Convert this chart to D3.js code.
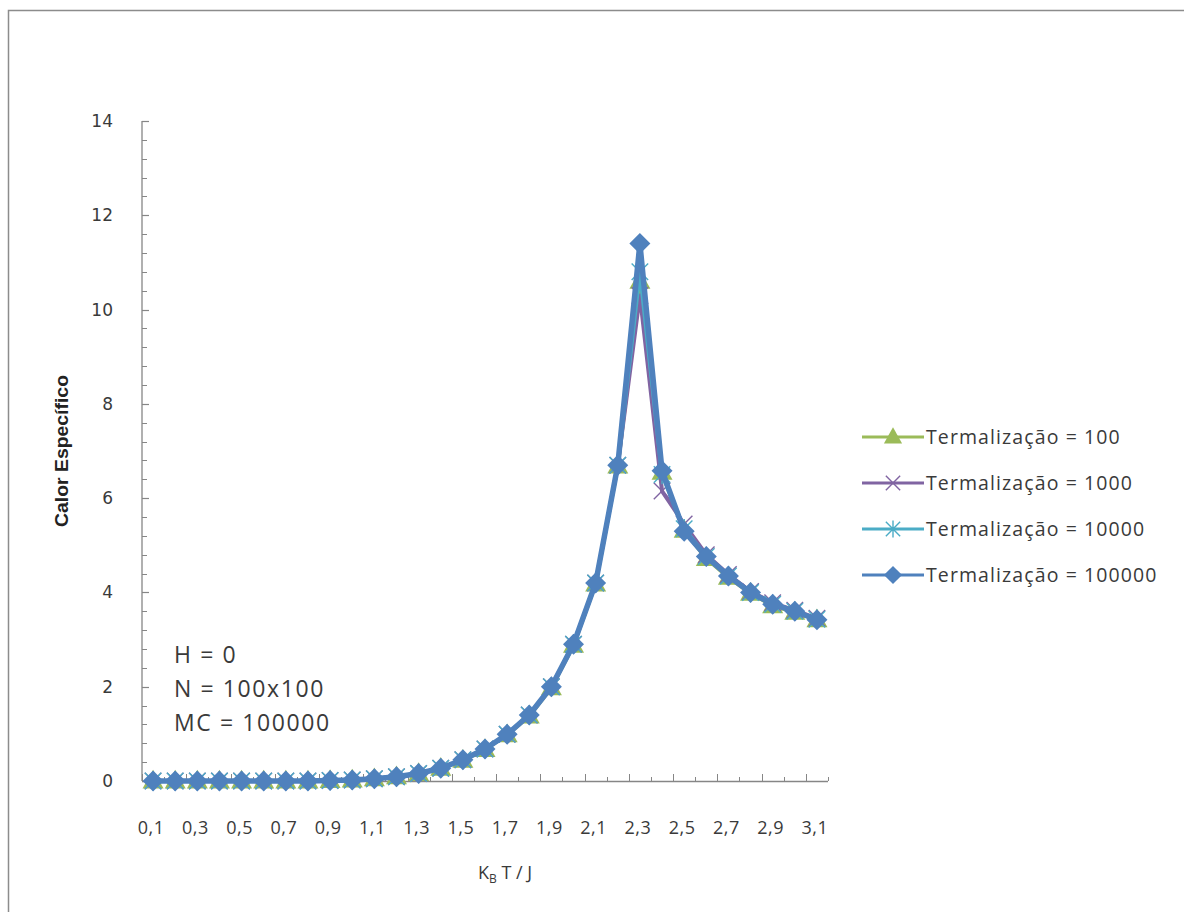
<!DOCTYPE html>
<html>
<head>
<meta charset="utf-8">
<script src="https://cdn.jsdelivr.net/npm/d3@7"></script>
<style>
  html, body { margin: 0; padding: 0; background: #fff; }
  svg { display: block; }
</style>
</head>
<body>
<svg id="chart" width="1184" height="912"></svg>
<script>
// Temperatures (k_B T / J) used as categories
const temperatures = ["0,1","0,2","0,3","0,4","0,5","0,6","0,7","0,8","0,9","1,0",
  "1,1","1,2","1,3","1,4","1,5","1,6","1,7","1,8","1,9","2,0",
  "2,1","2,2","2,3","2,4","2,5","2,6","2,7","2,8","2,9","3,0","3,1"];

// Specific heat for each thermalization length
const term100 =    [0,0,0,0,0,0,0,0,0.01,0.02,0.05,0.09,0.16,0.27,0.44,0.67,0.98,1.38,1.98,2.88,4.18,6.68,10.6,6.55,5.32,4.72,4.32,3.98,3.72,3.58,3.42];
const term1000 =   [0,0,0,0,0,0,0,0,0.01,0.02,0.05,0.09,0.16,0.27,0.45,0.68,0.99,1.40,2.00,2.90,4.20,6.70,10.3,6.15,5.45,4.80,4.38,4.02,3.78,3.62,3.45];
const term10000 =  [0,0,0,0,0,0,0,0,0.01,0.02,0.05,0.09,0.16,0.27,0.45,0.68,0.99,1.40,2.00,2.90,4.20,6.70,10.8,6.50,5.35,4.76,4.35,4.00,3.75,3.60,3.43];
const term100000 = [0,0,0,0,0,0,0,0,0.01,0.02,0.05,0.09,0.16,0.27,0.45,0.68,0.99,1.40,2.00,2.90,4.20,6.70,11.4,6.58,5.30,4.76,4.35,4.00,3.75,3.60,3.42];

const seriesNames = ["Termalização = 100","Termalização = 1000","Termalização = 10000","Termalização = 100000"];
const seriesValues = [term100, term1000, term10000, term100000];
const seriesColors = ["#9bbb59","#8064a2","#4bacc6","#4f81bd"];
const seriesMarkers = ["triangle","x","star","diamond"];

const yTicks = [0,2,4,6,8,10,12,14];
const notes = ["H = 0","N = 100x100","MC = 100000"];

const svg = d3.select("#chart");
const W = 1184, H = 912;

// chart frame
svg.append("rect").attr("x", 8.5).attr("y", 10.5).attr("width", W + 20).attr("height", H + 20)
  .attr("fill", "#fff").attr("stroke", "#8c8c8c").attr("stroke-width", 1.5);

const plot = { left: 142, right: 828, top: 121, bottom: 781 };

const x = d3.scaleBand().domain(temperatures).range([plot.left, plot.right]).padding(0);
const y = d3.scaleLinear().domain([0, 14]).range([plot.bottom, plot.top]);
const cx = t => x(t) + x.bandwidth() / 2;

const textFont = "'Open Sans', 'DejaVu Sans', sans-serif";
const textColor = "#3a3a3a";

// Y axis: major ticks every 2, minor every 0.4
const gy = svg.append("g").attr("transform", `translate(${plot.left},0)`);
gy.append("line").attr("x1", 0).attr("x2", 0).attr("y1", y(14)).attr("y2", y(0))
  .attr("stroke", "#868686").attr("stroke-width", 1.3);
const minorY = d3.range(0, 14.001, 0.4);
gy.selectAll("line.minor").data(minorY).join("line").attr("class", "minor")
  .attr("x1", 0).attr("x2", 5).attr("y1", d => Math.round(y(d)) + 0.5).attr("y2", d => Math.round(y(d)) + 0.5)
  .attr("stroke", "#868686").attr("stroke-width", 1);
gy.selectAll("line.major").data(yTicks).join("line").attr("class", "major")
  .attr("x1", 0).attr("x2", 7).attr("y1", d => Math.round(y(d)) + 0.5).attr("y2", d => Math.round(y(d)) + 0.5)
  .attr("stroke", "#868686").attr("stroke-width", 1.2);
gy.selectAll("text").data(yTicks).join("text")
  .attr("x", -29).attr("y", d => y(d)).attr("dy", "0.35em")
  .attr("text-anchor", "end").attr("font-family", "'DejaVu Sans', sans-serif")
  .attr("font-size", 17).attr("fill", textColor).text(d => d);

// X axis: category boundaries with alternating tick lengths
const gx = svg.append("g");
gx.append("line").attr("x1", plot.left).attr("x2", plot.right).attr("y1", plot.bottom + 0.5).attr("y2", plot.bottom + 0.5)
  .attr("stroke", "#868686").attr("stroke-width", 1.3);
const bounds = d3.range(0, temperatures.length + 1);
gx.selectAll("line.tick").data(bounds).join("line").attr("class", "tick")
  .attr("x1", i => Math.round(plot.left + i * x.bandwidth()) + 0.5)
  .attr("x2", i => Math.round(plot.left + i * x.bandwidth()) + 0.5)
  .attr("y1", plot.bottom).attr("y2", i => plot.bottom - (i % 2 === 0 ? 7 : 4))
  .attr("stroke", "#868686").attr("stroke-width", 1);
gx.selectAll("text").data(temperatures.filter((d, i) => i % 2 === 0)).join("text")
  .attr("x", d => cx(d) - 2).attr("y", 834)
  .attr("text-anchor", "middle").attr("font-family", textFont)
  .attr("font-size", 18).attr("letter-spacing", 0.5).attr("fill", textColor).text(d => d);

// Axis titles
const xt = svg.append("text").attr("x", 505).attr("y", 879).attr("text-anchor", "middle")
  .attr("font-family", textFont).attr("font-size", 18).attr("fill", textColor);
xt.append("tspan").text("K");
xt.append("tspan").attr("font-size", 12).attr("dy", 4).text("B");
xt.append("tspan").attr("dy", -4).text(" T / J");

svg.append("text").attr("transform", "translate(68,451) rotate(-90)")
  .attr("text-anchor", "middle").attr("font-family", "'Liberation Sans Narrow', 'Liberation Sans', sans-serif")
  .attr("font-weight", "bold").attr("font-size", 18).attr("fill", "#222")
  .attr("textLength", 152).attr("lengthAdjust", "spacingAndGlyphs")
  .text("Calor Específico");

// Marker symbol generator
function drawMarker(g, type, color, px, py, s) {
  if (type === "triangle") {
    g.append("path").attr("d", `M${px},${py - s * 0.75}L${px + s * 0.7},${py + s * 0.5}L${px - s * 0.7},${py + s * 0.5}Z`)
      .attr("fill", color);
  } else if (type === "x") {
    g.append("path").attr("d", `M${px - s * 0.55},${py - s * 0.55}L${px + s * 0.55},${py + s * 0.55}M${px - s * 0.55},${py + s * 0.55}L${px + s * 0.55},${py - s * 0.55}`)
      .attr("stroke", color).attr("stroke-width", 1.4).attr("fill", "none");
  } else if (type === "star") {
    g.append("path").attr("d", `M${px - s * 0.55},${py - s * 0.55}L${px + s * 0.55},${py + s * 0.55}M${px - s * 0.55},${py + s * 0.55}L${px + s * 0.55},${py - s * 0.55}M${px},${py - s * 0.65}L${px},${py + s * 0.65}`)
      .attr("stroke", color).attr("stroke-width", 1.4).attr("fill", "none");
  } else {
    g.append("path").attr("d", `M${px},${py - s * 0.7}L${px + s * 0.7},${py}L${px},${py + s * 0.7}L${px - s * 0.7},${py}Z`)
      .attr("fill", color);
  }
}

// Series lines and markers
const line = d3.line().x((d, i) => cx(temperatures[i])).y(d => y(d));
const seriesG = svg.append("g");
seriesValues.forEach((vals, si) => {
  const g = seriesG.append("g");
  g.append("path").datum(vals).attr("d", line).attr("fill", "none")
    .attr("stroke", seriesColors[si]).attr("stroke-width", si === 3 ? 5.5 : 4)
    .attr("stroke-linejoin", "round").attr("stroke-linecap", "round");
  vals.forEach((v, i) => drawMarker(g, seriesMarkers[si], seriesColors[si], cx(temperatures[i]), y(v), 15));
});

// Legend
const legend = svg.append("g");
seriesNames.forEach((name, si) => {
  const ly = 437 + si * 46;
  legend.append("line").attr("x1", 862).attr("x2", 924).attr("y1", ly).attr("y2", ly)
    .attr("stroke", seriesColors[si]).attr("stroke-width", 3);
  drawMarker(legend, seriesMarkers[si], seriesColors[si], 893, ly, 13);
  legend.append("text").attr("x", 926).attr("y", ly).attr("dy", "0.35em")
    .attr("font-family", textFont).attr("font-size", 19.5).attr("letter-spacing", 1.1)
    .attr("fill", textColor).text(name);
});

// Simulation parameters
svg.selectAll("text.note").data(notes).join("text").attr("class", "note")
  .attr("x", 174).attr("y", (d, i) => 663 + i * 34)
  .attr("font-family", textFont).attr("font-size", 23).attr("letter-spacing", 1.6)
  .attr("fill", textColor).text(d => d);
</script>
</body>
</html>
